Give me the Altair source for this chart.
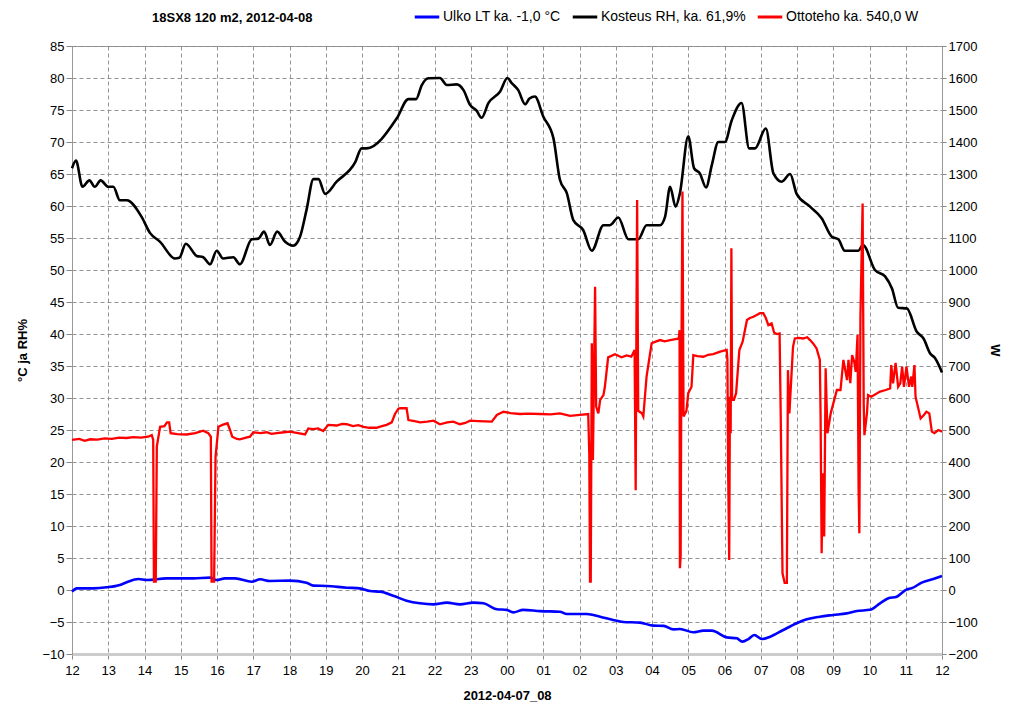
import altair as alt
import pandas as pd

# ---- data (hours since 12:00 on 2012-04-07) ----
rh_h = [0, 0.11, 0.29, 0.48, 0.63, 0.79, 1.0, 1.14, 1.32, 1.51, 1.92, 2.15, 2.43, 2.84, 2.96, 3.14, 3.44, 3.62,
        3.81, 3.99, 4.17, 4.45, 4.63, 4.96, 5.14, 5.30, 5.46, 5.66, 5.88, 6.10, 6.29, 6.47, 6.66, 6.80, 6.98,
        7.30, 7.81, 7.99, 8.13, 8.96, 9.28, 9.49, 9.65, 9.83, 10.15, 10.34, 10.61, 10.8, 10.98, 11.16, 11.30,
        11.49, 11.81, 12.01, 12.13, 12.31, 12.50, 12.62, 12.77, 13.0, 13.28, 13.46, 13.65, 13.83, 14.10, 14.34,
        14.66, 14.84, 15.07, 15.35, 15.62, 15.85, 16.22, 16.36, 16.50, 16.65, 16.77, 17.0, 17.16, 17.32, 17.49,
        17.65, 17.83, 18.01, 18.2, 18.47, 18.68, 18.84, 19.14, 19.35, 19.58, 19.81, 19.99, 20.36, 20.68, 20.96,
        21.14, 21.32, 21.69, 21.82, 22.15, 22.43, 22.62, 22.79, 23.03, 23.30, 23.49, 23.67, 23.81, 24.0]
rh_v = [65.9, 67.1, 63.0, 64.0, 63.0, 64.0, 63.0, 63.0, 60.9, 60.9, 58.3, 55.8, 54.4, 51.8, 51.9, 54.1, 52.2, 52.0,
        50.9, 53.0, 51.8, 52.0, 50.9, 54.8, 54.9, 56.0, 53.9, 56.0, 54.4, 53.8, 55.2, 59.4, 64.2, 64.2, 61.9,
        63.8, 66.8, 69.0, 69.0, 73.7, 76.7, 76.7, 78.9, 79.95, 80.0, 78.9, 79.0, 78.1, 75.8, 74.9, 73.8,
        76.1, 77.9, 80.0, 79.2, 78.1, 75.9, 76.8, 77.1, 74.0, 70.6, 64.1, 62.0, 57.8, 56.25, 53.0,
        57.0, 57.0, 58.2, 54.8, 54.8, 57.0, 57.0, 58.3, 63.0, 59.9, 62.0, 70.9, 65.9, 65.1, 62.9,
        66.4, 70.0, 70.0, 73.4, 76.1, 69.0, 69.0, 72.1, 65.1, 63.8, 65.0, 61.9, 59.9, 58.1, 55.2,
        54.8, 53.0, 53.0, 53.9, 50.0, 49.0, 47.1, 44.1, 44.0, 40.4, 39.3, 37.0, 36.2, 34.0]

t_h = [0, 0.13, 0.59, 0.96, 1.32, 1.51, 1.83, 2.06, 2.61, 3.35, 3.81, 3.99, 4.22, 4.50, 4.96, 5.19, 5.46, 6.01,
       6.47, 6.66, 7.03, 7.58, 7.94, 8.22, 8.50, 8.86, 9.23, 9.60, 9.97, 10.34, 10.70, 11.07, 11.35, 11.72,
       11.99, 12.17, 12.45, 12.91, 13.46, 13.65, 14.20, 14.57, 14.93, 15.21, 15.67, 16.04, 16.32, 16.59,
       16.77, 17.14, 17.42, 17.65, 18.06, 18.34, 18.49, 18.66, 18.82, 19.03, 19.26, 19.62, 19.99, 20.27,
       20.63, 21.0, 21.37, 21.65, 22.01, 22.29, 22.52, 22.75, 23.03, 23.16, 23.44, 23.76, 24.0]
t_v = [-0.26, 0.26, 0.26, 0.42, 0.78, 1.2, 1.72, 1.56, 1.82, 1.82, 1.93, 1.56, 1.82, 1.82, 1.3, 1.67, 1.41, 1.46,
       1.15, 0.68, 0.63, 0.36, 0.26, -0.16, -0.26, -0.89, -1.67, -2.08, -2.24, -1.98, -2.24, -1.98, -2.08, -3.0,
       -3.1, -3.5, -3.1, -3.3, -3.39, -3.75, -3.75, -4.17, -4.69, -5.0, -5.1, -5.57, -5.6, -6.15,
       -6.1, -6.6, -6.35, -6.35, -7.4, -7.55, -8.07, -7.66, -7.03, -7.66, -7.3, -6.25, -5.2, -4.58,
       -4.17, -3.9, -3.65, -3.28, -3.1, -2.08, -1.3, -1.05, 0.1, 0.26, 1.15, 1.72, 2.19]

w_h = [0.0, 0.2, 0.35, 0.5, 0.7, 0.9, 1.1, 1.3, 1.5, 1.7, 1.9, 2.1, 2.2, 2.24, 2.26, 2.31, 2.34, 2.43, 2.55,
       2.62, 2.68, 2.72, 2.9, 3.16, 3.4, 3.62, 3.76, 3.83, 3.85, 3.92, 3.96, 4.04, 4.15, 4.29, 4.36, 4.42,
       4.55, 4.63, 4.8, 4.91, 5.0, 5.2, 5.37, 5.5, 5.65, 5.85, 6.01, 6.2, 6.43, 6.52, 6.65, 6.79, 6.93, 7.07,
       7.3, 7.45, 7.58, 7.75, 7.9, 8.04, 8.2, 8.4, 8.55, 8.68, 8.82, 8.91, 9.0, 9.05, 9.23, 9.28, 9.45, 9.6,
       9.8, 9.97, 10.15, 10.35, 10.52, 10.7, 10.85, 10.98, 11.2, 11.4, 11.58, 11.72, 11.9, 12.1, 12.36,
       12.6, 12.91, 13.2, 13.46, 13.74, 14.01, 14.24, 14.27, 14.29, 14.31, 14.34, 14.37, 14.43, 14.46,
       14.52, 14.57, 14.66, 14.70, 14.79, 14.98, 15.16, 15.3, 15.43, 15.52, 15.55, 15.57, 15.59, 15.62,
       15.72, 15.76, 15.85, 15.99, 16.1, 16.22, 16.35, 16.5, 16.65, 16.74, 16.76, 16.77, 16.79, 16.81,
       16.84, 16.87, 16.95, 17.0, 17.09, 17.14, 17.25, 17.42, 17.55, 17.69, 17.88, 18.06, 18.08, 18.10,
       18.13, 18.15, 18.17, 18.19, 18.21, 18.26, 18.32, 18.41, 18.50, 18.62, 18.70, 18.80, 18.90, 18.98,
       19.07, 19.14, 19.21, 19.30, 19.37, 19.45, 19.52, 19.55, 19.60, 19.66, 19.72, 19.75, 19.79, 19.89,
       19.94, 20.05, 20.17, 20.28, 20.36, 20.45, 20.54, 20.63, 20.65, 20.68, 20.71, 20.75, 20.79, 20.84,
       20.93, 21.10, 21.20, 21.28, 21.38, 21.42, 21.47, 21.52, 21.58, 21.62, 21.67, 21.70, 21.72, 21.75,
       21.81, 21.84, 21.86, 21.93, 21.96, 22.05, 22.29, 22.45, 22.57, 22.60, 22.65, 22.72, 22.79, 22.85,
       22.90, 22.95, 23.02, 23.09, 23.15, 23.18, 23.24, 23.27, 23.41, 23.50, 23.57, 23.65, 23.72, 23.79,
       23.90, 24.0]
w_v = [469, 472, 466, 471, 470, 474, 472, 476, 475, 478, 476, 479, 484, 470, 26, 26, 448, 510, 512,
       524, 524, 490, 487, 486, 490, 498, 490, 479, 26, 26, 417, 510, 516, 521, 500, 479,
       472, 471, 476, 479, 493, 490, 493, 488, 490, 493, 495, 491, 486, 505, 503, 505, 497, 516,
       514, 519, 518, 512, 515, 510, 507, 507, 512, 516, 524, 550, 566, 568, 568, 531, 528, 524,
       526, 529, 518, 524, 526, 518, 522, 529, 528, 527, 526, 547, 557, 553, 550,
       551, 550, 549, 552, 544, 547, 550, 427, 26, 26, 771, 406, 948, 573,
       552, 594, 609, 635, 727, 737, 727, 733, 729, 750, 312, 823, 1219, 560,
       552, 542, 667, 771, 776, 781, 777, 781, 784, 786, 812, 68, 104, 698,
       1245, 542, 560, 615, 635, 734, 731, 729, 735, 737, 745, 750, 720, 375,
       94, 604, 490, 1068, 594, 594, 615, 750, 776, 844, 850, 854, 860, 865,
       865, 850, 828, 833, 804, 800, 802, 552, 52, 22, 22, 687, 552, 760,
       786, 788, 786, 790, 781, 770, 755, 719, 552, 115, 365, 167, 693, 490,
       552, 625, 625, 719, 656, 719, 646, 734, 713, 682, 797, 312, 177, 854,
       1208, 583, 484, 552, 609, 604, 620, 625, 630, 703, 646, 710, 635, 646,
       698, 635, 698, 635, 667, 635, 703, 604, 536, 547, 557, 552, 495, 490,
       500, 495]

series_names = ["Ulko LT ka. -1,0 °C", "Kosteus RH, ka. 61,9%", "Ottoteho ka. 540,0 W"]
series_colors = ["#0000ff", "#000000", "#ff0000"]

left_df = pd.concat([
    pd.DataFrame({"h": t_h, "v": t_v, "s": series_names[0], "o": 0}),
    pd.DataFrame({"h": rh_h, "v": rh_v, "s": series_names[1], "o": 1}),
])
right_df = pd.DataFrame({"h": w_h, "v": w_v, "s": series_names[2]})

FONT = "Liberation Sans"

color = alt.Color(
    "s:N",
    scale=alt.Scale(domain=series_names, range=series_colors),
    legend=alt.Legend(
        title=None, orient="none", direction="horizontal", legendX=341, legendY=-43,
        symbolType="stroke", symbolStrokeWidth=3, symbolSize=600, labelFontSize=14,
        labelFont=FONT, labelColor="black", columnPadding=5, labelOffset=2,
    ),
)

x_axis = alt.Axis(
    values=list(range(0, 25)),
    labelExpr="((12+datum.value)%24) < 10 ? '0' + ((12+datum.value)%24) : '' + ((12+datum.value)%24)",
    labelOverlap=False, labelFlush=False,
    title="2012-04-07_08", titleFontWeight="bold", titlePadding=12,
    domainColor="#cccccc", domainWidth=3, tickColor="#888888", tickSize=5,
    labelPadding=5,
)
x_scale = alt.Scale(domain=[0, 24], nice=False, zero=False)

left = alt.Chart(left_df).mark_line(strokeWidth=2.6, interpolate="monotone").encode(
    x=alt.X("h:Q", scale=x_scale, axis=x_axis),
    y=alt.Y(
        "v:Q",
        scale=alt.Scale(domain=[-10, 85], nice=False, zero=False),
        axis=alt.Axis(values=list(range(-10, 90, 5)), title="°C ja RH%", titleFontWeight="bold",
                      titlePadding=12, tickSize=6, tickColor="#888888", labelOverlap=False,
                      labelFlush=False),
    ),
    color=color,
    detail="s:N",
    order="o:Q",
)

right = alt.Chart(right_df).mark_line(strokeWidth=2.3).encode(
    x=alt.X("h:Q", scale=x_scale, axis=x_axis),
    y=alt.Y(
        "v:Q",
        scale=alt.Scale(domain=[-200, 1700], nice=False, zero=False),
        axis=alt.Axis(orient="right", values=list(range(-200, 1800, 100)), format="d", title="W",
                      titleFontWeight="bold", grid=False, titlePadding=10, tickSize=4,
                      tickColor="#888888", labelOverlap=False, labelFlush=False),
    ),
    color=color,
)

chart = alt.layer(left, right).resolve_scale(y="independent").properties(
    width=870,
    height=608,
    padding={"left": 64, "top": 38, "right": 74, "bottom": 54},
    autosize=alt.AutoSizeParams(type="none"),
    title=alt.TitleParams("18SX8 120 m2, 2012-04-08", anchor="start", frame="group", dx=80, offset=0,
                          dy=22, fontSize=13, fontWeight="bold", font=FONT, color="black"),
).configure_axis(
    labelFont=FONT, labelFontSize=13, labelColor="black", titleFont=FONT, titleFontSize=13,
    titleColor="black", domainColor="#999999", gridColor="#888888", gridDash=[4, 3],
    gridOpacity=0.9, gridWidth=1,
).configure_view(stroke="#999999", strokeWidth=1)

chart.save("out.html", embed_options={"renderer": "svg", "actions": False})
